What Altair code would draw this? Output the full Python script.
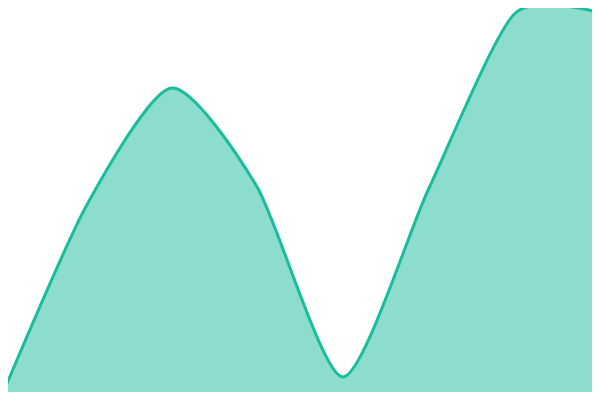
import altair as alt
import pandas as pd

xs = [0, 1, 2, 3, 4, 5, 6, 7]
values = [0, 193, 312, 213, 23, 211, 386, 387]

df = pd.DataFrame({"x": xs, "v": values})

chart = alt.Chart(df).mark_area(
    interpolate="cardinal",
    tension=0.3,
    color="#1abc9c",
    fillOpacity=0.5,
    line={"color": "#1abc9c", "strokeWidth": 3},
    clip=True,
).encode(
    x=alt.X("x:Q", axis=None, scale=alt.Scale(domain=[0, 7], nice=False, zero=False)),
    y=alt.Y("v:Q", axis=None, scale=alt.Scale(domain=[0, 400], nice=False)),
).properties(
    width=600, height=400,
    padding={"left": -8, "top": -8, "right": -8, "bottom": -8},
).configure_view(stroke=None)

chart.save("out.html", embed_options={"renderer": "svg", "actions": False})
